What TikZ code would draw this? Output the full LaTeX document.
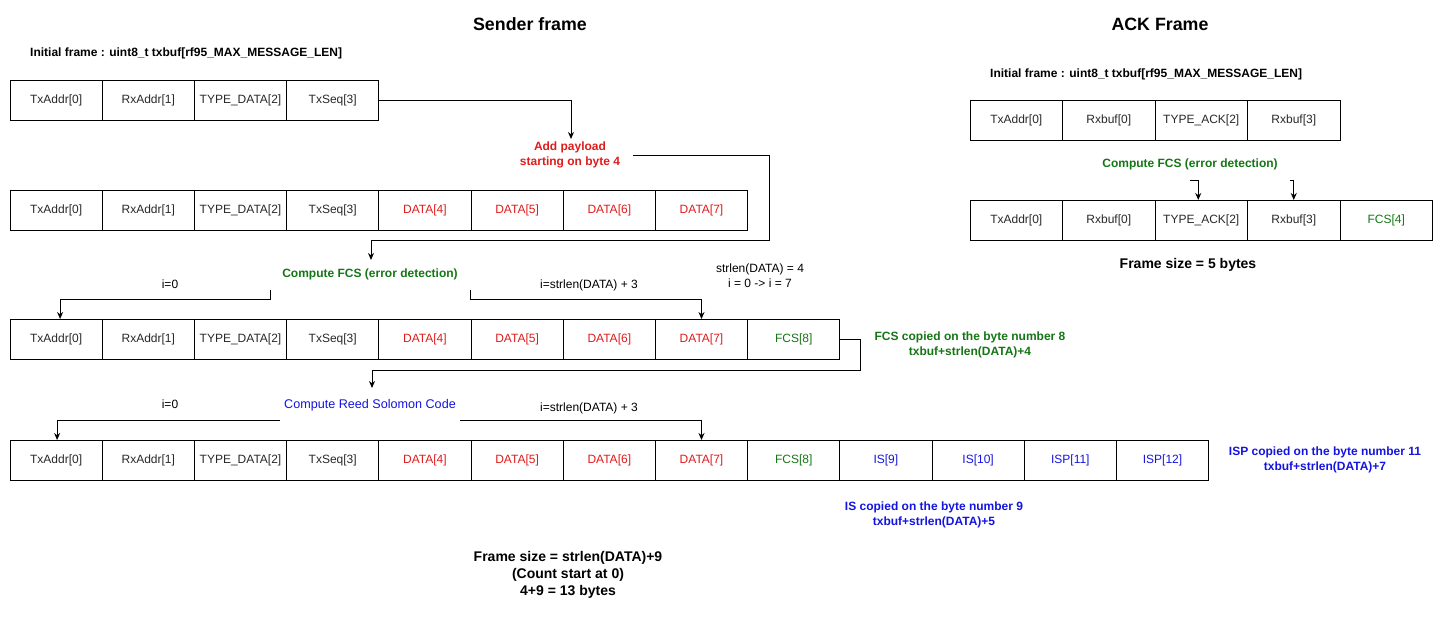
\documentclass[tikz,border=0pt]{standalone}
\usepackage{fontspec}
\setmainfont{Liberation Sans}
\usetikzlibrary{arrows.meta}
\definecolor{cred}{RGB}{222,28,28}
\definecolor{cgreen}{RGB}{20,118,20}
\definecolor{cblue}{RGB}{20,20,225}
\definecolor{ctext}{RGB}{40,40,40}
\begin{document}
\begin{tikzpicture}[x=1pt,y=-1pt,
  cell/.style={draw, line width=1pt, minimum width=92.2pt, minimum height=40pt, inner sep=0pt, outer sep=0pt,
    font=\fontsize{12}{14}\selectfont, text=ctext, anchor=west},
  ackcell/.style={cell, minimum width=92.5pt},
  rc/.style={text=cred}, gc/.style={text=cgreen}, bc/.style={text=cblue},
  lbl/.style={font=\fontsize{12}{15}\selectfont, align=center, inner sep=1pt},
  blbl/.style={font=\bfseries\fontsize{12}{15}\selectfont, align=center, inner sep=1pt},
  big/.style={font=\bfseries\fontsize{14}{17}\selectfont, align=center, inner sep=1pt},
  ttl/.style={font=\bfseries\fontsize{17.8}{20}\selectfont},
  conn/.style={line width=1pt, -{Stealth[length=7pt,width=6pt]}}]
\useasboundingbox (0,0) rectangle (1443,621);

% titles
\node[ttl] (t1) at (530,24) {Sender frame};
\node[ttl] (t2) at (1160,24) {ACK Frame};
\node[blbl, anchor=west] (init1) at (29,53) {Initial frame : uint8\_t txbuf[rf95\_MAX\_MESSAGE\_LEN]};
\node[blbl, anchor=west] (init2) at (989,74) {Initial frame : uint8\_t txbuf[rf95\_MAX\_MESSAGE\_LEN]};

% row 1
\node[cell] (a1) at (10,100) {TxAddr[0]};
\node[cell] (a2) at (a1.east) {RxAddr[1]};
\node[cell] (a3) at (a2.east) {TYPE\_DATA[2]};
\node[cell] (a4) at (a3.east) {TxSeq[3]};

% row 2
\node[cell] (b1) at (10,210) {TxAddr[0]};
\node[cell] (b2) at (b1.east) {RxAddr[1]};
\node[cell] (b3) at (b2.east) {TYPE\_DATA[2]};
\node[cell] (b4) at (b3.east) {TxSeq[3]};
\node[cell,rc] (b5) at (b4.east) {DATA[4]};
\node[cell,rc] (b6) at (b5.east) {DATA[5]};
\node[cell,rc] (b7) at (b6.east) {DATA[6]};
\node[cell,rc] (b8) at (b7.east) {DATA[7]};

% row 3
\node[cell] (c1) at (10,339) {TxAddr[0]};
\node[cell] (c2) at (c1.east) {RxAddr[1]};
\node[cell] (c3) at (c2.east) {TYPE\_DATA[2]};
\node[cell] (c4) at (c3.east) {TxSeq[3]};
\node[cell,rc] (c5) at (c4.east) {DATA[4]};
\node[cell,rc] (c6) at (c5.east) {DATA[5]};
\node[cell,rc] (c7) at (c6.east) {DATA[6]};
\node[cell,rc] (c8) at (c7.east) {DATA[7]};
\node[cell,gc] (c9) at (c8.east) {FCS[8]};

% row 4
\node[cell] (d1) at (10,460) {TxAddr[0]};
\node[cell] (d2) at (d1.east) {RxAddr[1]};
\node[cell] (d3) at (d2.east) {TYPE\_DATA[2]};
\node[cell] (d4) at (d3.east) {TxSeq[3]};
\node[cell,rc] (d5) at (d4.east) {DATA[4]};
\node[cell,rc] (d6) at (d5.east) {DATA[5]};
\node[cell,rc] (d7) at (d6.east) {DATA[6]};
\node[cell,rc] (d8) at (d7.east) {DATA[7]};
\node[cell,gc] (d9) at (d8.east) {FCS[8]};
\node[cell,bc] (d10) at (d9.east) {IS[9]};
\node[cell,bc] (d11) at (d10.east) {IS[10]};
\node[cell,bc] (d12) at (d11.east) {ISP[11]};
\node[cell,bc] (d13) at (d12.east) {ISP[12]};

% ACK rows
\node[ackcell] (e1) at (970,120) {TxAddr[0]};
\node[ackcell] (e2) at (e1.east) {Rxbuf[0]};
\node[ackcell] (e3) at (e2.east) {TYPE\_ACK[2]};
\node[ackcell] (e4) at (e3.east) {Rxbuf[3]};

\node[ackcell] (f1) at (970,220) {TxAddr[0]};
\node[ackcell] (f2) at (f1.east) {Rxbuf[0]};
\node[ackcell] (f3) at (f2.east) {TYPE\_ACK[2]};
\node[ackcell] (f4) at (f3.east) {Rxbuf[3]};
\node[ackcell,gc] (f5) at (f4.east) {FCS[4]};

% labels
\node[blbl, text=cred] (pay) at (570,155) {Add payload\\starting on byte 4};
\node[blbl, text=cgreen] (fcs) at (370,274) {Compute FCS (error detection)};
\node[lbl, text=cblue, font=\fontsize{12.6}{15}\selectfont] (rs) at (370,405) {Compute Reed Solomon Code};
\node[lbl] (i0a) at (170,284) {i=0};
\node[lbl] (ina) at (589,285) {i=strlen(DATA) + 3};
\node[lbl] (sl) at (760,276) {strlen(DATA) = 4\\i = 0 -> i = 7};
\node[lbl] (i0b) at (170,404) {i=0};
\node[lbl] (inb) at (589,408) {i=strlen(DATA) + 3};
\node[blbl, text=cgreen] (fcscp) at (970,345) {FCS copied on the byte number 8\\txbuf+strlen(DATA)+4};
\node[blbl, text=cblue] (ispcp) at (1325,460) {ISP copied on the byte number 11\\txbuf+strlen(DATA)+7};
\node[blbl, text=cblue] (iscp) at (934,515) {IS copied on the byte number 9\\txbuf+strlen(DATA)+5};
\node[big] (fsz) at (568,575) {Frame size = strlen(DATA)+9\\(Count start at 0)\\4+9 = 13 bytes};
\node[blbl, text=cgreen] (ackfcs) at (1190,164) {Compute FCS (error detection)};
\node[big] (ackfsz) at (1188,265) {Frame size = 5 bytes};

% connectors
\coordinate (p1) at (571,139);
\draw[conn] (a4.east) -| (p1);
\coordinate (p2a) at (633,155);
\coordinate (p2b) at (371,260);
\draw[conn] (p2a) -| (769,240) -| (p2b);

\coordinate (fl) at (270,290);
\coordinate (fr) at (470,290);
\draw[conn] (fl) -- (270,299) -| ([xshift=4pt]c1.north);
\draw[conn] (fr) -- (470,299) -| (c8.north);

\coordinate (p3) at (372,388);
\draw[conn] (c9.east) -| (860,370) -| (p3);

\coordinate (rl) at (280,420);
\coordinate (rr) at (460,420);
\draw[conn] (rl) -| ([xshift=1pt]d1.north);
\draw[conn] (rr) -| (d8.north);

\coordinate (k1) at (1190,180);
\coordinate (k2) at (1290,180);
\draw[conn] (k1) -| ([xshift=-3pt]f3.north);
\draw[conn] (k2) -| (f4.north);
\end{tikzpicture}
\end{document}
